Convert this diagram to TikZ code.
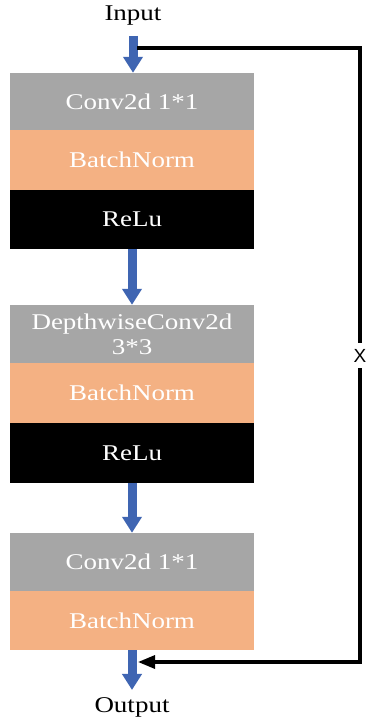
\documentclass[tikz,border=0pt]{standalone}
\usepackage{fontspec}
\setmainfont{Liberation Serif}
\newfontfamily\lblfont[FakeStretch=1.2]{Liberation Serif}
\newfontfamily\xfont{Liberation Sans}
\usetikzlibrary{arrows.meta}
\definecolor{lgray}{HTML}{A6A6A6}
\definecolor{lorange}{HTML}{F4B183}
\definecolor{lblue}{HTML}{3F65B2}
\tikzset{
  layer/.style={rectangle, minimum width=244pt, inner sep=0pt, text=white,
    font=\lblfont\fontsize{22.5}{24}\selectfont, align=center},
  conv/.style={layer, fill=lgray},
  bn/.style={layer, fill=lorange},
  relu/.style={layer, fill=black},
  io/.style={font=\lblfont\fontsize{22.5}{24}\selectfont, inner sep=0pt},
  barrow/.style={draw=lblue, line width=9pt, -{Triangle[width=19pt,length=16pt]}},
  skip/.style={draw=black, line width=3.2pt},
}
\begin{document}
\begin{tikzpicture}[x=1pt,y=-1pt]
\useasboundingbox[fill=white] (0,0) rectangle (367,722);
\node[io] (in) at (133,16) {Input};
\node[conv, minimum height=57pt] (c1) at (132,101.5) {Conv2d 1*1};
\node[bn, minimum height=60pt] (b1) at (132,160) {BatchNorm};
\node[relu, minimum height=59pt] (r1) at (132,219.5) {ReLu};
\node[conv, minimum height=58pt] (c2) at (132,334) {DepthwiseConv2d\\[1pt]3*3};
\node[bn, minimum height=60pt] (b2) at (132,393) {BatchNorm};
\node[relu, minimum height=60pt] (r2) at (132,453) {ReLu};
\node[conv, minimum height=58pt] (c3) at (132,562) {Conv2d 1*1};
\node[bn, minimum height=59pt] (b3) at (132,620.5) {BatchNorm};
\node[io] (out) at (132,707) {Output};
\node[font=\xfont\fontsize{19}{20}\selectfont, inner sep=0pt, minimum height=25pt] (x) at (360,355.5) {X};
\coordinate (s0) at (137,48);
\coordinate (s1) at (138,662);
\coordinate (a0) at (133,36);
\draw[barrow] (a0) -- (c1.north -| a0);
\draw[barrow] (r1.south) -- (c2.north);
\draw[barrow] (r2.south) -- (c3.north);
\draw[barrow, shorten >=7pt] (b3.south) -- (out.north);
\draw[skip] (s0) -| (x.north);
\draw[skip, -{Triangle[width=13pt,length=17pt]}] (x.south) |- (s1);
\end{tikzpicture}
\end{document}
